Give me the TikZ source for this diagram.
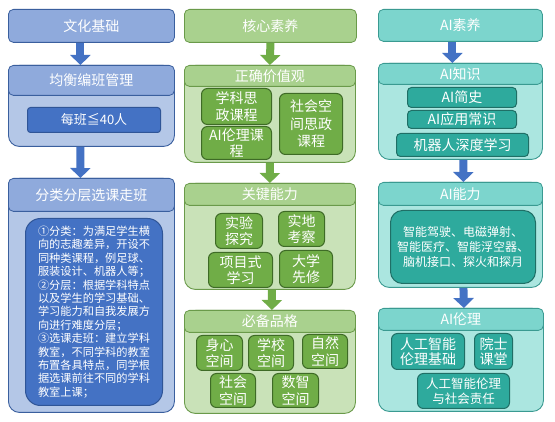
\documentclass[tikz,border=0pt]{standalone}
\usepackage{fontspec}
\setmainfont{Noto Sans CJK SC}
\usepackage{tikz}
\usetikzlibrary{arrows.meta}
\definecolor{bluehead}{HTML}{8FAADC}
\definecolor{bluebody}{HTML}{B4C7E7}
\definecolor{blueline}{HTML}{3A5F9E}
\definecolor{bluebox}{HTML}{4472C4}
\definecolor{blueboxline}{HTML}{2F5597}
\definecolor{greenhead}{HTML}{A9D18E}
\definecolor{greenbody}{HTML}{C9E2B8}
\definecolor{greenline}{HTML}{6A9A4A}
\definecolor{greenbox}{HTML}{70AD47}
\definecolor{greenboxline}{HTML}{3E6B26}
\definecolor{tealhead}{HTML}{7CD5CD}
\definecolor{tealbody}{HTML}{ABE6E0}
\definecolor{tealline}{HTML}{3A9A91}
\definecolor{tealbox}{HTML}{2EAA9D}
\definecolor{tealboxline}{HTML}{1F6F66}
\tikzset{
 size/.style 2 args = {
    minimum width=#1pt, minimum height=#2pt},
 title/.style = {
    rectangle, draw=#1line, fill=#1head,
    rounded corners=5pt, line width=0.8pt,
    anchor=north west, inner sep=0pt,
    text=white, font=\fontsize{14}{16}\selectfont},
 group/.style = {
    rectangle, draw=#1line, fill=#1body,
    rounded corners=11pt, line width=0.9pt,
    anchor=north west, inner sep=0pt},
 band/.style = {
    rectangle, draw=#1line, fill=#1head,
    rounded corners=5pt, line width=0.8pt,
    anchor=north west, inner sep=0pt,
    text=white, font=\fontsize{14}{16}\selectfont},
 item/.style = {
    rectangle, draw=#1boxline, fill=#1box,
    rounded corners=6pt, line width=1pt,
    anchor=north west, inner sep=0pt,
    text=white, align=center,
    font=\fontsize{14}{16.5}\selectfont},
 link/.style = {
    draw=#1, line width=8pt, -{Triangle[width=20pt,length=10pt]}},
}
\begin{document}
\begin{tikzpicture}[x=1pt, y=-1pt]
\useasboundingbox[fill=white] (0,0) rectangle (555,422);

% Left column
\node [title=blue, size={166}{33}] (wenhua) at (8,9) {文化基础};
\node [group=blue, size={166}{81}] (junheng) at (8,65) {};
\node [band=blue, size={166}{30}] (junhengT) at (8,65) {均衡编班管理};
\node [item=blue, size={133}{25}, rounded corners=3pt,
       font=\fontsize{13}{15}\selectfont] (meiban) at (27,107) {每班≦40人};
\node [group=blue, size={166}{234}] (fenlei) at (8,178) {};
\node [band=blue, size={166}{33}] (fenleiT) at (8,178) {分类分层选课走班};
\node [item=blue, size={137}{187}, rounded corners=15pt, align=left,
       font=\fontsize{11.2}{13.4}\selectfont] (fenleiX) at (25,218)
  {①分类：为满足学生横\\向的志趣差异，开设不\\同种类课程，例足球、\\服装设计、机器人等；\\%
   ②分层：根据学科特点\\以及学生的学习基础、\\学习能力和自我发展方\\向进行难度分层；\\%
   ③选课走班：建立学科\\教室，不同学科的教室\\布置各具特点，同学根\\据选课前往不同的学科\\教室上课；};

% Middle column
\node [title=green, size={172}{33}] (hexin) at (184,9) {核心素养};
\node [group=green, size={171}{97}] (jiazhi) at (184,65) {};
\node [band=green, size={171}{21}] (jiazhiT) at (184,65) {正确价值观};
\node [item=green, size={70}{36}] (xueke) at (201,88) {学科思\\政课程};
\node [item=green, size={70}{33}] (lunli) at (201,126) {AI伦理课\\程};
\node [item=green, size={63}{61}, font=\fontsize{14}{17.5}\selectfont] (shehui) at (279,93) {社会空\\间思政\\课程};
\node [group=green, size={171}{106}] (nengli) at (184,183) {};
\node [band=green, size={171}{22}] (nengliT) at (184,183) {关键能力};
\node [item=green, size={47}{35}, font=\fontsize{14}{15.5}\selectfont] (shiyan) at (215,213) {实验\\探究};
\node [item=green, size={46}{35}, font=\fontsize{14}{15.5}\selectfont] (shidi) at (278,211) {实地\\考察};
\node [item=green, size={64}{35}] (xiangmu) at (208,252) {项目式\\学习};
\node [item=green, size={53}{37}] (daxue) at (279,250) {大学\\先修};
\node [group=green, size={171}{103}] (pinge) at (184,310) {};
\node [band=green, size={171}{22}] (pingeT) at (184,310) {必备品格};
\node [item=green, size={46}{35}] (shenxin) at (196,335) {身心\\空间};
\node [item=green, size={45}{35}] (xuexiao) at (248,335) {学校\\空间};
\node [item=green, size={45}{34}] (ziran) at (302,334) {自然\\空间};
\node [item=green, size={45}{34}] (shehuiK) at (210,373) {社会\\空间};
\node [item=green, size={46}{34}] (shuzhi) at (272,373) {数智\\空间};

% Right column
\node [title=teal, size={164}{32}] (aisuyang) at (378,9) {AI素养};
\node [group=teal, size={164}{96}] (zhishi) at (378,63) {};
\node [band=teal, size={164}{21}] (zhishiT) at (378,63) {AI知识};
\node [item=teal, size={109}{20}, rounded corners=4pt] (jianshi) at (407,87) {AI简史};
\node [item=teal, size={109}{18}, rounded corners=4pt] (changshi) at (407,110) {AI应用常识};
\node [item=teal, size={132}{23}, rounded corners=4pt] (shendu) at (396,133) {机器人深度学习};
\node [group=teal, size={164}{105}] (ainengli) at (378,182) {};
\node [band=teal, size={164}{23}] (ainengliT) at (378,182) {AI能力};
\node [item=teal, size={145}{73}, rounded corners=12pt,
       font=\fontsize{12}{15}\selectfont] (yingyong) at (390,210)
  {智能驾驶、电磁弹射、\\智能医疗、智能浮空器、\\脑机接口、探火和探月};
\node [group=teal, size={165}{103}] (ailunli) at (378,308) {};
\node [band=teal, size={165}{22}] (ailunliT) at (378,308) {AI伦理};
\node [item=teal, size={73}{36}, font=\fontsize{14}{15.5}\selectfont] (jichu) at (391,333) {人工智能\\伦理基础};
\node [item=teal, size={38}{36}, font=\fontsize{14}{15.5}\selectfont] (yuanshi) at (474,333) {院士\\课堂};
\node [item=teal, size={92}{35}, font=\fontsize{12.5}{15.5}\selectfont] (zeren) at (417,373) {人工智能伦理\\与社会责任};

% Arrows
\draw[link=bluebox] ([xshift=-11pt]wenhua.south) -- ([xshift=-11pt]junhengT.north);
\draw[link=bluebox] ([xshift=-11pt]junheng.south) -- ([xshift=-11pt]fenleiT.north);
\draw[link=greenbox] (hexin.south) -- (jiazhiT.north);
\draw[link=greenbox] (jiazhi.south) -- (nengliT.north);
\draw[link=greenbox] ([xshift=2pt]nengli.south) -- ([xshift=2pt]pingeT.north);
\draw[link=bluebox] ([xshift=-8pt]aisuyang.south) -- ([xshift=-8pt]zhishiT.north);
\draw[link=bluebox] ([xshift=3pt]zhishi.south) -- ([xshift=3pt]ainengliT.north);
\draw[link=bluebox] ([xshift=3pt]ainengli.south) -- ([xshift=3pt]ailunliT.north);
\end{tikzpicture}
\end{document}
